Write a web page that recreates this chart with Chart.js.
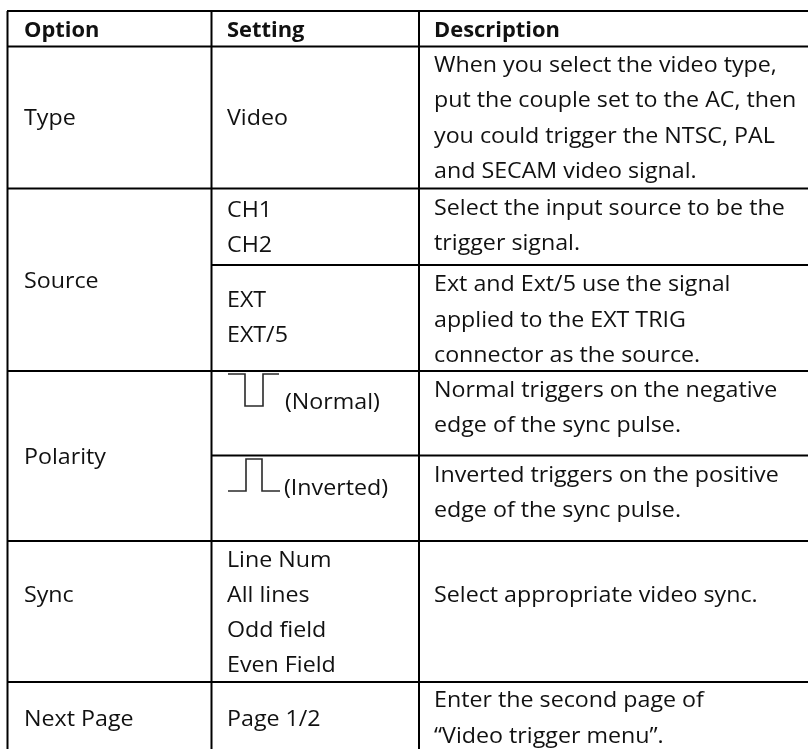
<!DOCTYPE html>
<html>
<head>
<meta charset="utf-8">
<style>html,body{margin:0;padding:0;background:#fff}canvas{display:block}</style>
<script src="https://cdn.jsdelivr.net/npm/chart.js@4"></script>
</head>
<body>
<canvas id="c" width="808" height="749"></canvas>
<script>
const headers = ["Option", "Setting", "Description"];
const options = ["Type", "Source", "Polarity", "Sync", "Next Page"];
const settings = ["Video", "CH1", "CH2", "EXT", "EXT/5", "(Normal)", "(Inverted)", "Line Num", "All lines", "Odd field", "Even Field", "Page 1/2"];
const descriptions = [
  "When you select the video type,", "put the couple set to the AC, then", "you could trigger the NTSC, PAL", "and SECAM video signal.",
  "Select the input source to be the", "trigger signal.",
  "Ext and Ext/5 use the signal", "applied to the EXT TRIG", "connector as the source.",
  "Normal triggers on the negative", "edge of the sync pulse.",
  "Inverted triggers on the positive", "edge of the sync pulse.",
  "Select appropriate video sync.",
  "Enter the second page of", "\u201CVideo trigger menu\u201D."
];

const headerRow = [37];
const optionRows = [125, 288, 464, 602, 726];
const settingRows = [125, 217, 252, 307, 342, 409, 495, 567, 602, 637, 672, 726];
const settingCols = [227, 227, 227, 227, 227, 285, 284, 227, 227, 227, 227, 227];
const descriptionRows = [72, 107, 143, 178, 215, 250, 291, 327, 362, 397, 432, 482, 517, 602, 707, 743];
const columnStarts = [24, 227, 434];

const verticalRules = [[7.5, 11, 749], [211.5, 11, 749], [419, 11, 749]];
const horizontalRules = [[7, 808, 11], [7, 808, 46.5], [7, 808, 188.5], [211, 808, 265], [7, 808, 371], [211, 808, 455.5], [7, 808, 541], [7, 808, 682]];
const normalPulseX = [228, 245, 245, 263, 263, 279];
const normalPulseY = [374, 374, 406, 406, 374, 374];
const invertedPulseX = [228, 246, 246, 262, 262, 280];
const invertedPulseY = [491, 491, 459, 459, 491, 491];

const ruleSets = [
  ...verticalRules.map(r => [{x: r[0], y: r[1]}, {x: r[0], y: r[2]}]),
  ...horizontalRules.map(r => [{x: r[0], y: r[2]}, {x: r[1], y: r[2]}])
];
const zip = (xs, ys) => xs.map((x, i) => ({x, y: ys[i]}));

const BODY = '21px "Open Sans", sans-serif';
const BOLD = 'bold 21px "Open Sans", sans-serif';
const BODY_STRETCH = 1.106;
const BOLD_STRETCH = 1.043;

const tableText = {
  id: 'tableText',
  afterDatasetsDraw(chart) {
    const {ctx, scales: {x, y}} = chart;
    const put = (t, cx, cy, font, stretch) => {
      ctx.save();
      ctx.font = font;
      ctx.translate(x.getPixelForValue(cx), y.getPixelForValue(cy));
      ctx.scale(stretch, 1);
      ctx.fillText(t, 0, 0);
      ctx.restore();
    };
    ctx.save();
    ctx.fillStyle = '#111';
    ctx.textBaseline = 'alphabetic';
    ctx.textAlign = 'left';
    headers.forEach((t, i) => put(t, columnStarts[i], headerRow[0], BOLD, BOLD_STRETCH));
    options.forEach((t, i) => put(t, columnStarts[0], optionRows[i], BODY, BODY_STRETCH));
    settings.forEach((t, i) => put(t, settingCols[i], settingRows[i], BODY, BODY_STRETCH));
    descriptions.forEach((t, i) => put(t, columnStarts[2], descriptionRows[i], BODY, BODY_STRETCH));
    ctx.restore();
  }
};

new Chart(document.getElementById('c'), {
  type: 'scatter',
  data: {
    datasets: [
      ...ruleSets.map(d => ({data: d, showLine: true, borderColor: '#000', borderWidth: 2, pointRadius: 0, tension: 0})),
      {data: zip(normalPulseX, normalPulseY), showLine: true, borderColor: '#2a2a2a', borderWidth: 1.6, pointRadius: 0, tension: 0},
      {data: zip(invertedPulseX, invertedPulseY), showLine: true, borderColor: '#2a2a2a', borderWidth: 1.6, pointRadius: 0, tension: 0}
    ]
  },
  options: {
    responsive: false,
    animation: false,
    layout: {padding: 0},
    plugins: {legend: {display: false}, tooltip: {enabled: false}, title: {display: false}},
    scales: {
      x: {type: 'linear', min: 0, max: 808, display: false},
      y: {type: 'linear', min: 0, max: 749, reverse: true, display: false}
    }
  },
  plugins: [tableText]
});
</script>
</body>
</html>
